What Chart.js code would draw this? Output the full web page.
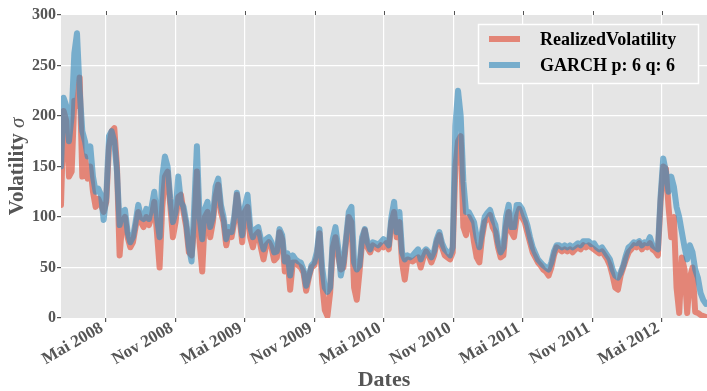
<!DOCTYPE html>
<html>
<head>
<meta charset="utf-8">
<script src="https://cdn.jsdelivr.net/npm/chart.js@4.4.1/dist/chart.umd.min.js"></script>
<style>
  html, body { margin: 0; padding: 0; background: #ffffff; }
  #wrap { width: 707px; height: 391px; position: relative; }
</style>
</head>
<body>
<div id="wrap"><canvas id="chart"></canvas></div>
<script>
// =============================================================================
// Data (weekly observations read off the reference picture)
// =============================================================================

const START_DATE = "2008-01-04";
const STEP_DAYS = 7;
const AXIS_MIN_DATE = "2008-01-04";
const AXIS_MAX_DATE = "2012-08-27";

const SERIES_NAMES = ["RealizedVolatility", "GARCH p: 6 q: 6"];

const realized = [
  112, 205, 195, 140, 145, 215, 210, 238, 140, 160,
  138, 150, 125, 110, 118, 112, 105, 115, 170, 185,
  188, 150, 62, 95, 100, 80, 70, 75, 90, 105,
  95, 90, 100, 92, 100, 115, 85, 50, 110, 140,
  145, 112, 80, 95, 120, 122, 105, 90, 65, 62,
  90, 145, 75, 46, 100, 105, 80, 95, 120, 132,
  105, 95, 72, 85, 80, 95, 122, 100, 75, 105,
  110, 80, 70, 82, 85, 70, 58, 72, 75, 70,
  57, 60, 85, 78, 46, 60, 28, 55, 55, 52,
  50, 45, 27, 40, 50, 52, 60, 84, 35, 8,
  2, 25, 70, 80, 62, 48, 50, 75, 100, 95,
  30, 18, 45, 75, 87, 70, 65, 72, 70, 68,
  72, 70, 74, 68, 95, 105, 80, 95, 55, 38,
  58, 57, 56, 58, 60, 50, 60, 66, 62, 55,
  62, 75, 82, 70, 62, 60, 58, 65, 150, 175,
  180, 90, 82, 100, 95, 75, 60, 55, 80, 95,
  98, 102, 90, 85, 70, 60, 62, 90, 105, 85,
  80, 100, 108, 100, 95, 85, 75, 65, 60, 55,
  52, 48, 46, 42, 50, 62, 70, 68, 66, 68,
  66, 68, 65, 68, 70, 68, 72, 70, 72, 70,
  68, 66, 64, 66, 62, 58, 52, 42, 30, 28,
  42, 50, 58, 65, 68, 72, 70, 74, 68, 72,
  70, 74, 68, 66, 62, 115, 150, 148, 110, 80,
  100, 30, 5, 60, 48, 5, 40, 50, 6, 5,
  3, 2, 1
];

const garch = [
  150, 218, 210, 175, 200, 262, 282, 225, 185, 175,
  160, 170, 140, 125, 128, 122, 97, 120, 180, 185,
  175, 145, 92, 105, 107, 85, 75, 80, 95, 112,
  100, 98, 108, 98, 110, 125, 100, 80, 140, 160,
  150, 118, 95, 105, 140, 115, 110, 95, 70, 56,
  110, 170, 100, 78, 108, 115, 90, 100, 130, 138,
  112, 100, 78, 90, 85, 100, 124, 105, 82, 110,
  122, 90, 80, 88, 90, 78, 68, 78, 80, 75,
  65, 66, 88, 82, 56, 64, 42, 62, 58, 56,
  55, 48, 32, 42, 52, 55, 65, 88, 50, 30,
  26, 30, 78, 90, 70, 42, 55, 80, 105, 110,
  55, 48, 52, 80, 88, 75, 68, 75, 74, 72,
  75, 78, 76, 72, 100, 115, 85, 105, 65, 58,
  62, 60, 62, 65, 68, 58, 65, 68, 65, 60,
  66, 78, 85, 74, 68, 65, 62, 70, 190, 225,
  200, 135, 105, 105, 100, 95, 80, 70, 85, 100,
  104, 107, 98, 92, 75, 65, 70, 100, 112, 90,
  90, 112, 112, 108, 100, 92, 80, 70, 64, 58,
  55, 52, 50, 48, 55, 66, 72, 72, 70, 72,
  70, 72, 70, 72, 74, 72, 76, 76, 76, 73,
  74, 70, 68, 70, 66, 62, 58, 48, 42, 40,
  45, 52, 62, 70, 72, 75, 74, 76, 72, 75,
  74, 80, 72, 70, 68, 120, 158, 145, 125, 140,
  130, 110, 100, 85, 70, 58, 72, 65, 48, 40,
  25, 18, 14
];

const TICK_DATES = [
  "2008-05-01", "2008-11-01", "2009-05-01", "2009-11-01", "2010-05-01",
  "2010-11-01", "2011-05-01", "2011-11-01", "2012-05-01"
];
const TICK_LABELS = [
  "Mai 2008", "Nov 2008", "Mai 2009", "Nov 2009", "Mai 2010",
  "Nov 2010", "Mai 2011", "Nov 2011", "Mai 2012"
];
const Y_TICKS = [0, 50, 100, 150, 200, 250, 300];

// =============================================================================
// Style
// =============================================================================

const RED = "rgba(226, 74, 51, 0.62)";
const BLUE = "rgba(52, 138, 189, 0.62)";
const PANEL_BG = "#E5E5E5";
const TEXT_GRAY = "#555555";
const SERIF = "'Liberation Serif', 'DejaVu Serif', serif";

/** day number (days since epoch) of an ISO date */
function dayNum(iso) {
  const [y, m, d] = iso.split("-").map(Number);
  return Date.UTC(y, m - 1, d) / 86400000;
}

const startDay = dayNum(START_DATE);
const toPoints = (values) =>
  values.map((v, i) => ({ x: startDay + i * STEP_DAYS, y: v }));

// panel background + axis titles + legend box
const decorPlugin = {
  id: "decor",
  beforeDraw(chart) {
    const { ctx, chartArea: a } = chart;
    ctx.save();
    ctx.fillStyle = PANEL_BG;
    ctx.fillRect(a.left, a.top, a.right - a.left, a.bottom - a.top);
    ctx.restore();
  },
  afterDraw(chart) {
    const { ctx, chartArea: a, scales } = chart;
    ctx.save();

    // tick marks on the top edge
    ctx.strokeStyle = TEXT_GRAY;
    ctx.lineWidth = 1;
    TICK_DATES.forEach((d) => {
      const x = Math.round(scales.x.getPixelForValue(dayNum(d))) + 0.5;
      ctx.beginPath();
      ctx.moveTo(x, a.top);
      ctx.lineTo(x, a.top - 4);
      ctx.stroke();
    });

    // x title
    ctx.fillStyle = TEXT_GRAY;
    ctx.font = "bold 22px " + SERIF;
    ctx.textAlign = "center";
    ctx.textBaseline = "middle";
    ctx.fillText("Dates", (a.left + a.right) / 2, 380);

    // y title: "Volatility" bold + sigma italic
    const part1 = "Volatility ";
    const part2 = "\u03C3";
    const f1 = "bold 21px " + SERIF;
    const f2 = "italic 21px " + SERIF;
    ctx.font = f1;
    const w1 = ctx.measureText(part1).width;
    ctx.font = f2;
    const w2 = ctx.measureText(part2).width;
    ctx.translate(18, (a.top + a.bottom) / 2);
    ctx.rotate(-Math.PI / 2);
    ctx.textAlign = "left";
    ctx.font = f1;
    ctx.fillText(part1, -(w1 + w2) / 2, 0);
    ctx.font = f2;
    ctx.fillText(part2, -(w1 + w2) / 2 + w1, 0);
    ctx.setTransform(1, 0, 0, 1, 0, 0);

    // legend
    const lx = 478, ly = 24, lw = 220, lh = 59;
    ctx.fillStyle = PANEL_BG;
    ctx.fillRect(lx, ly, lw, lh);
    ctx.strokeStyle = "#ffffff";
    ctx.lineWidth = 1.5;
    ctx.strokeRect(lx + 0.5, ly + 0.5, lw, lh);
    [RED, BLUE].forEach((c, i) => {
      const y = ly + 15 + i * 26;
      ctx.strokeStyle = c;
      ctx.lineWidth = 6;
      ctx.beginPath();
      ctx.moveTo(489, y);
      ctx.lineTo(520, y);
      ctx.stroke();
      ctx.fillStyle = "#000000";
      ctx.font = "bold 18px " + SERIF;
      ctx.textAlign = "left";
      ctx.textBaseline = "middle";
      ctx.fillText(SERIES_NAMES[i], 540, y + 1);
    });

    ctx.restore();
  },
};

const ctx = document.getElementById("chart").getContext("2d");
new Chart(ctx, {
  type: "line",
  data: {
    datasets: [
      {
        label: SERIES_NAMES[0],
        data: toPoints(realized),
        borderColor: RED,
        borderWidth: 6,
        pointRadius: 0,
        tension: 0,
        borderJoinStyle: "round",
        borderCapStyle: "round",
        clip: 0,
        order: 1,
      },
      {
        label: SERIES_NAMES[1],
        data: toPoints(garch),
        borderColor: BLUE,
        borderWidth: 6,
        pointRadius: 0,
        tension: 0,
        borderJoinStyle: "round",
        borderCapStyle: "round",
        clip: 0,
        order: 0,
      },
    ],
  },
  options: {
    responsive: true,
    maintainAspectRatio: false,
    animation: false,
    layout: { padding: { top: 15, right: 0, left: 0, bottom: 0 } },
    plugins: {
      legend: { display: false },
      tooltip: { enabled: false },
    },
    scales: {
      x: {
        type: "linear",
        min: dayNum(AXIS_MIN_DATE),
        max: dayNum(AXIS_MAX_DATE),
        afterBuildTicks(scale) {
          scale.ticks = TICK_DATES.map((d) => ({ value: dayNum(d) }));
        },
        afterFit(scale) {
          scale.height = 73;
        },
        border: { display: false },
        grid: {
          color: "#ffffff",
          lineWidth: 1.2,
          tickColor: TEXT_GRAY,
          tickLength: 4,
        },
        ticks: {
          autoSkip: false,
          minRotation: 30,
          maxRotation: 30,
          padding: -4,
          labelOffset: -4,
          color: TEXT_GRAY,
          font: { family: SERIF, size: 17, weight: "bold" },
          callback: (v, i) => TICK_LABELS[i],
        },
      },
      y: {
        min: 0,
        max: 300,
        afterBuildTicks(scale) {
          scale.ticks = Y_TICKS.map((v) => ({ value: v }));
        },
        afterFit(scale) {
          scale.width = 61;
        },
        border: { display: false },
        grid: {
          color: (c) => (c.tick && (c.tick.value === 0 || c.tick.value === 300) ? "rgba(0,0,0,0)" : "#ffffff"),
          lineWidth: 1.2,
          tickColor: TEXT_GRAY,
          tickLength: 4,
        },
        ticks: {
          padding: 1,
          color: TEXT_GRAY,
          font: { family: SERIF, size: 16, weight: "bold" },
        },
      },
    },
  },
  plugins: [decorPlugin],
});
</script>
</body>
</html>
